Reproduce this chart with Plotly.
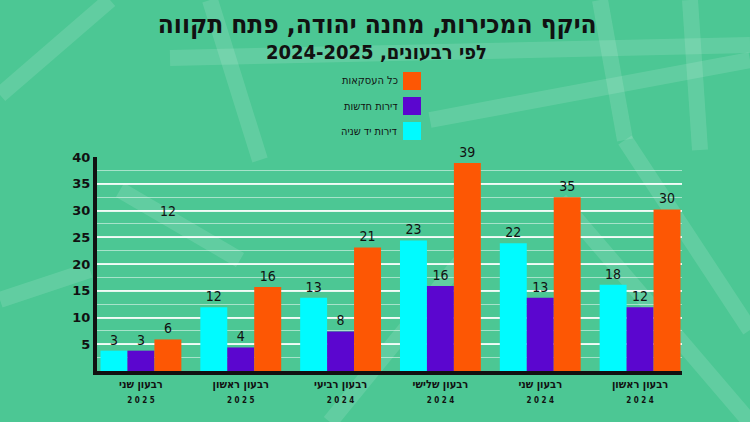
import plotly.graph_objects as go

# categories, left to right as in the picture
quarters = ['רבעון שני', 'רבעון ראשון', 'רבעון רביעי', 'רבעון שלישי', 'רבעון שני', 'רבעון ראשון']
years = ['2025', '2025', '2024', '2024', '2024', '2024']

# bar heights as drawn in the picture
second_hand = [3.8, 11.9, 13.7, 24.4, 23.9, 16.1]
new_flats = [3.8, 4.4, 7.4, 15.9, 13.7, 11.9]
all_deals = [5.9, 15.7, 23.1, 38.9, 32.5, 30.2]

# value labels printed above the bars
second_hand_lbl = ['3', '12', '13', '23', '22', '18']
new_flats_lbl = ['3', '4', '8', '16', '13', '12']
all_deals_lbl = ['6', '16', '21', '39', '35', '30']

y_ticks = [5, 10, 15, 20, 25, 30, 35, 40]

names = ['דירות יד שניה', 'דירות חדשות', 'כל העסקאות']
colors = ['#00fbff', '#5b06cf', '#fd5704']

W, H = 750, 422
L, R, T, B = 97, 682, 157, 371


def px_x(p):
    return (p - L) / (R - L)


def px_y(p):
    return (B - p) / (B - T)


cats = [f'{q}|{y}|{i}' for i, (q, y) in enumerate(zip(quarters, years))]
ticktext = [f"<b>{q}</b><br><span style='font-size:8px'><b>{' '.join(y)}</b></span>"
            for q, y in zip(quarters, years)]

num_font = dict(family='Liberation Sans Narrow, DejaVu Sans Condensed', size=14, color='#111')

fig = go.Figure()
for vals, lbls, name, col in zip([second_hand, new_flats, all_deals],
                                 [second_hand_lbl, new_flats_lbl, all_deals_lbl],
                                 names, colors):
    fig.add_trace(go.Bar(x=cats, y=vals, name=name, marker=dict(color=col, line=dict(width=0)),
                         text=lbls, textposition='outside', textfont=num_font,
                         cliponaxis=False, showlegend=False))

annotations = []
# stray label floating above the first group
annotations.append(dict(x=0.27, y=30, xref='x', yref='y', text='12', showarrow=False,
                        font=num_font))

# background "map" roads
roads = [
    (0, 95, 110, 0), (170, 58, 750, 45), (210, 0, 260, 160), (600, 0, 625, 140),
    (625, 140, 750, 330), (690, 0, 700, 150), (0, 300, 90, 270), (430, 120, 750, 60),
    (330, 422, 470, 250), (560, 200, 750, 422), (120, 190, 240, 260),
]
shapes = []
for x0, y0, x1, y1 in roads:
    shapes.append(dict(type='line', xref='paper', yref='paper', layer='below',
                       x0=px_x(x0), y0=px_y(y0), x1=px_x(x1), y1=px_y(y1),
                       line=dict(color='rgba(255,255,255,0.12)', width=16)))

# legend drawn by hand: square on the right, text on the left
for i, (name, col) in enumerate(zip(names[::-1], colors[::-1])):
    top = 72 + i * 25
    shapes.append(dict(type='rect', xref='paper', yref='paper',
                       x0=px_x(403), x1=px_x(421), y0=px_y(top), y1=px_y(top + 18),
                       fillcolor=col, line=dict(width=0)))
    annotations.append(dict(xref='paper', yref='paper', x=px_x(400), y=px_y(top + 9),
                            xanchor='right', yanchor='middle', showarrow=False, text=name,
                            font=dict(family='DejaVu Sans Condensed', size=11, color='#111')))

annotations.append(dict(xref='paper', yref='paper', x=px_x(376), y=px_y(52),
                        xanchor='center', yanchor='middle', showarrow=False,
                        text='<b>\u202bלפי רבעונים, 2024-2025\u202c</b>',
                        font=dict(family='DejaVu Sans Condensed', size=20, color='#111')))

fig.update_layout(
    width=W, height=H,
    margin=dict(l=L, r=W - R, t=T, b=H - B, pad=0),
    paper_bgcolor='#4cc794', plot_bgcolor='rgba(0,0,0,0)',
    barmode='group', bargap=0.19, bargroupgap=0,
    title=dict(text='<b>היקף המכירות, מחנה יהודה, פתח תקווה</b>', x=0.503, xanchor='center',
               y=1 - 24 / H, yanchor='middle', yref='container',
               font=dict(family='DejaVu Sans Condensed', size=26, color='#111')),
    shapes=shapes, annotations=annotations,
    xaxis=dict(range=[-0.44, 5.42], tickvals=cats, ticktext=ticktext, showgrid=False,
               showline=True, linecolor='#111', linewidth=4, ticks='',
               tickfont=dict(family='DejaVu Sans Condensed', size=11, color='#111')),
    yaxis=dict(range=[0, 40], tickvals=y_ticks, ticktext=[str(v) for v in y_ticks],
               showgrid=True, gridcolor='rgba(255,255,255,0.85)', gridwidth=1.5,
               minor=dict(tickmode='linear', tick0=0, dtick=2.5, showgrid=True,
                          gridcolor='rgba(255,255,255,0.5)', gridwidth=1),
               showline=True, linecolor='#111', linewidth=4, zeroline=False, ticks='',
               tickfont=dict(family='DejaVu Sans', size=13, color='#111', weight='bold')),
    font=dict(family='DejaVu Sans Condensed', color='#111'),
)

fig.write_html('out.html', config={'displayModeBar': False},
               post_script="document.body.style.margin='0';")
